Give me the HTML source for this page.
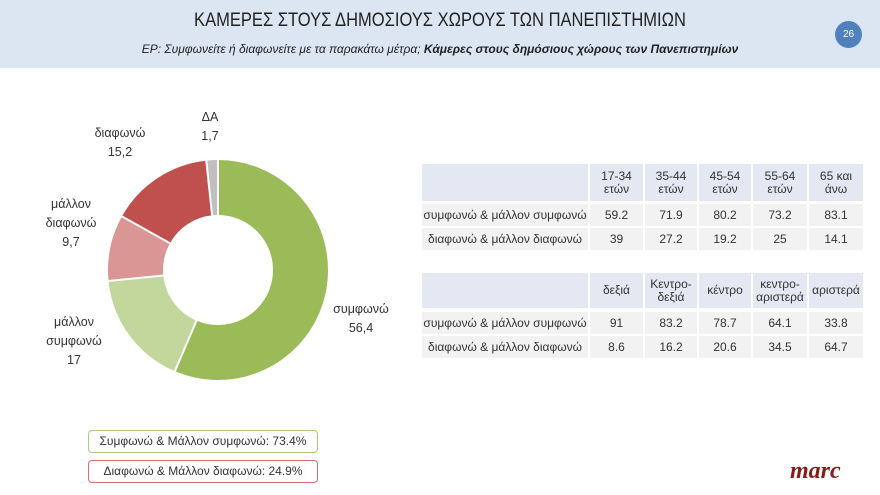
<!DOCTYPE html>
<html><head><meta charset="utf-8"><style>
body{margin:0;width:880px;height:495px;background:#fff;font-family:"Liberation Sans","DejaVu Sans",sans-serif;position:relative;overflow:hidden;color:#222}
.bar{position:absolute;left:0;top:0;width:880px;height:68px;background:#dce6f2}
.t{position:absolute;left:0;width:880px;text-align:center}
.lbl{position:absolute;font-size:12.5px;text-align:center;line-height:19px;color:#333}
.tb{position:absolute;left:422px;font-size:12px;color:#333}
.c{position:absolute;text-align:center;display:flex;align-items:center;justify-content:center;line-height:13px}
.h{background:#e3e8f2}
.r{background:#f2f2f2}
.box{position:absolute;left:88px;width:228px;height:21px;border-radius:4px;font-size:12px;text-align:center;line-height:21px;color:#333}
</style></head><body>
<div class="bar"></div>
<div class="t" style="top:10px;font-size:19px;color:#222;transform:scaleX(0.87)">ΚΑΜΕΡΕΣ ΣΤΟΥΣ ΔΗΜΟΣΙΟΥΣ ΧΩΡΟΥΣ ΤΩΝ ΠΑΝΕΠΙΣΤΗΜΙΩΝ</div>
<div class="t" style="top:42px;font-size:12px;font-style:italic">ΕΡ: Συμφωνείτε ή διαφωνείτε με τα παρακάτω μέτρα; <b>Κάμερες στους δημόσιους χώρους των Πανεπιστημίων</b></div>
<div style="position:absolute;left:835px;top:21px;width:27px;height:27px;border-radius:50%;background:#4f81bd;color:#fff;font-size:10px;text-align:center;line-height:27px">26</div>
<svg style="position:absolute;left:0;top:0" width="880" height="495">
<g transform="rotate(-90 218 270)" fill="none" stroke-width="55">
<circle cx="218" cy="270" r="82.5" stroke="#9bbb59" stroke-dasharray="292.36 600" stroke-dashoffset="0"/>
<circle cx="218" cy="270" r="82.5" stroke="#c3d69b" stroke-dasharray="88.12 600" stroke-dashoffset="-292.36"/>
<circle cx="218" cy="270" r="82.5" stroke="#d99694" stroke-dasharray="50.28 600" stroke-dashoffset="-380.48"/>
<circle cx="218" cy="270" r="82.5" stroke="#c0504d" stroke-dasharray="78.79 600" stroke-dashoffset="-430.76"/>
<circle cx="218" cy="270" r="82.5" stroke="#bfbfbf" stroke-dasharray="8.81 600" stroke-dashoffset="-509.55"/>
</g>
<g stroke="#fff" stroke-width="2">
<line x1="218" y1="215" x2="218" y2="159"/>
<line x1="196.5" y1="320.6" x2="174.9" y2="371.2"/>
<line x1="163.3" y1="275.5" x2="108.6" y2="281"/>
<line x1="170" y1="243.2" x2="121.9" y2="216.4"/>
<line x1="212.1" y1="215.3" x2="206.3" y2="160.6"/>
</g>
</svg>
<div class="lbl" style="left:190px;top:108px;width:40px">ΔΑ<br>1,7</div>
<div class="lbl" style="left:90px;top:124px;width:60px">διαφωνώ<br>15,2</div>
<div class="lbl" style="left:36px;top:195px;width:70px">μάλλον<br>διαφωνώ<br>9,7</div>
<div class="lbl" style="left:36px;top:313px;width:76px">μάλλον<br>συμφωνώ<br>17</div>
<div class="lbl" style="left:326px;top:300px;width:70px">συμφωνώ<br>56,4</div>

<div class="tb" style="top:164px">
<div class="c h" style="left:0;top:0;width:166px;height:37px"></div>
<div class="c h" style="left:168px;top:0;width:53px;height:37px">17-34<br>ετών</div>
<div class="c h" style="left:223px;top:0;width:52px;height:37px">35-44<br>ετών</div>
<div class="c h" style="left:277px;top:0;width:52px;height:37px">45-54<br>ετών</div>
<div class="c h" style="left:331px;top:0;width:54px;height:37px">55-64<br>ετών</div>
<div class="c h" style="left:387px;top:0;width:54px;height:37px">65 και<br>άνω</div>
<div class="c r" style="left:0;top:40px;width:166px;height:22px">συμφωνώ &amp; μάλλον συμφωνώ</div>
<div class="c r" style="left:168px;top:40px;width:53px;height:22px">59.2</div>
<div class="c r" style="left:223px;top:40px;width:52px;height:22px">71.9</div>
<div class="c r" style="left:277px;top:40px;width:52px;height:22px">80.2</div>
<div class="c r" style="left:331px;top:40px;width:54px;height:22px">73.2</div>
<div class="c r" style="left:387px;top:40px;width:54px;height:22px">83.1</div>
<div class="c r" style="left:0;top:64px;width:166px;height:22px">διαφωνώ &amp; μάλλον διαφωνώ</div>
<div class="c r" style="left:168px;top:64px;width:53px;height:22px">39</div>
<div class="c r" style="left:223px;top:64px;width:52px;height:22px">27.2</div>
<div class="c r" style="left:277px;top:64px;width:52px;height:22px">19.2</div>
<div class="c r" style="left:331px;top:64px;width:54px;height:22px">25</div>
<div class="c r" style="left:387px;top:64px;width:54px;height:22px">14.1</div>
</div>

<div class="tb" style="top:273px">
<div class="c h" style="left:0;top:0;width:166px;height:35px"></div>
<div class="c h" style="left:168px;top:0;width:53px;height:35px">δεξιά</div>
<div class="c h" style="left:223px;top:0;width:52px;height:35px">Κεντρο-<br>δεξιά</div>
<div class="c h" style="left:277px;top:0;width:52px;height:35px">κέντρο</div>
<div class="c h" style="left:331px;top:0;width:54px;height:35px">κεντρο-<br>αριστερά</div>
<div class="c h" style="left:387px;top:0;width:54px;height:35px">αριστερά</div>
<div class="c r" style="left:0;top:39px;width:166px;height:22px">συμφωνώ &amp; μάλλον συμφωνώ</div>
<div class="c r" style="left:168px;top:39px;width:53px;height:22px">91</div>
<div class="c r" style="left:223px;top:39px;width:52px;height:22px">83.2</div>
<div class="c r" style="left:277px;top:39px;width:52px;height:22px">78.7</div>
<div class="c r" style="left:331px;top:39px;width:54px;height:22px">64.1</div>
<div class="c r" style="left:387px;top:39px;width:54px;height:22px">33.8</div>
<div class="c r" style="left:0;top:63px;width:166px;height:22px">διαφωνώ &amp; μάλλον διαφωνώ</div>
<div class="c r" style="left:168px;top:63px;width:53px;height:22px">8.6</div>
<div class="c r" style="left:223px;top:63px;width:52px;height:22px">16.2</div>
<div class="c r" style="left:277px;top:63px;width:52px;height:22px">20.6</div>
<div class="c r" style="left:331px;top:63px;width:54px;height:22px">34.5</div>
<div class="c r" style="left:387px;top:63px;width:54px;height:22px">64.7</div>
</div>

<div class="box" style="top:430px;border:1.5px solid #a9c97a">Συμφωνώ &amp; Μάλλον συμφωνώ: 73.4%</div>
<div class="box" style="top:460px;border:1.5px solid #d0706e">Διαφωνώ &amp; Μάλλον διαφωνώ: 24.9%</div>
<div style="position:absolute;left:790px;top:458px;font-family:'Liberation Serif',serif;font-style:italic;font-weight:bold;font-size:24px;color:#8b1a1a">marc</div>
</body></html>
